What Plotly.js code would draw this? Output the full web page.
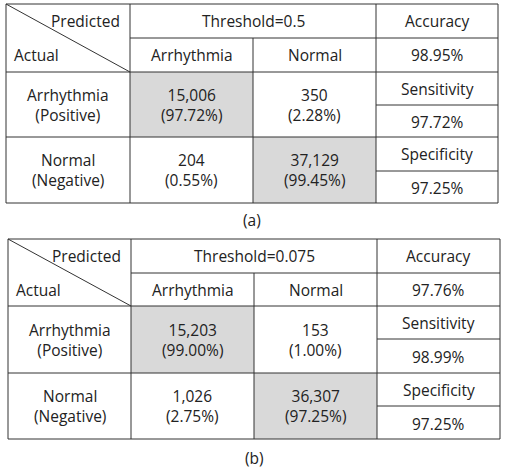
<!DOCTYPE html>
<html><head><meta charset="utf-8">
<script src="https://cdn.plot.ly/plotly-3.0.1.min.js"></script>
<style>html,body{margin:0;padding:0;background:#fff;}#chart{width:505px;height:469px;}</style>
</head><body><div id="chart"></div>
<script>
// ---- data ----
const predictedClasses = ["Arrhythmia", "Normal"];
const actualClasses = ["Arrhythmia", "Normal"];
const actualSub = ["(Positive)", "(Negative)"];
const thresholds = ["0.5", "0.075"];
const panelLabels = ["(a)", "(b)"];
const countsA = [[15006, 350], [204, 37129]];
const percentA = [[97.72, 2.28], [0.55, 99.45]];
const countsB = [[15203, 153], [1026, 36307]];
const percentB = [[99.00, 1.00], [2.75, 97.25]];
const accuracy = [98.95, 97.76];
const sensitivity = [97.72, 98.99];
const specificity = [97.25, 97.25];

// ---- layout geometry (pixel grid of the two tables) ----
const panels = [
  {xs: [6, 130, 253, 376, 498], ys: [4, 38, 72, 137, 203], sub: [105, 171], labelY: 220},
  {xs: [8, 131, 254, 377, 500], ys: [239, 273, 306, 373, 439], sub: [339, 406], labelY: 458}
];
const counts = [countsA, countsB];
const percents = [percentA, percentB];

const LINE = '#333';
const GREY = '#d9d9d9';
const FONT = {family: '"Open Sans", "Noto Sans", sans-serif', size: 15.5, color: '#222'};

const shapes = [];
const annotations = [];
function txt(x, y, t, xanchor) {
  annotations.push({x: x, y: y, xref: 'x', yref: 'y', text: t, showarrow: false,
    xanchor: xanchor || 'center', yanchor: 'middle', font: FONT});
}
function line(x0, y0, x1, y1, w) {
  shapes.push({type: 'line', xref: 'x', yref: 'y', x0: x0, y0: y0, x1: x1, y1: y1,
    line: {color: LINE, width: w || 1}});
}
const fmtN = v => v.toLocaleString('en-US');
const fmtP = v => v.toFixed(2) + '%';

panels.forEach((p, k) => {
  const xs = p.xs, ys = p.ys;
  // grey diagonal cells
  for (let i = 0; i < 2; i++) {
    shapes.push({type: 'rect', xref: 'x', yref: 'y', layer: 'below',
      x0: xs[1 + i], x1: xs[2 + i], y0: ys[2 + i], y1: ys[3 + i],
      fillcolor: GREY, line: {width: 0}});
  }
  // grid
  line(xs[0], ys[0], xs[4], ys[0]);
  line(xs[0], ys[4], xs[4], ys[4]);
  line(xs[0], ys[0], xs[0], ys[4]);
  line(xs[4], ys[0], xs[4], ys[4]);
  line(xs[1], ys[0], xs[1], ys[4]);
  line(xs[3], ys[0], xs[3], ys[4]);
  line(xs[2], ys[1], xs[2], ys[4]);
  line(xs[1], ys[1], xs[4], ys[1]);
  line(xs[0], ys[2], xs[4], ys[2]);
  line(xs[0], ys[3], xs[4], ys[3]);
  line(xs[3], p.sub[0], xs[4], p.sub[0]);
  line(xs[3], p.sub[1], xs[4], p.sub[1]);
  line(xs[0], ys[0], xs[1], ys[2]);

  const h1 = (ys[0] + ys[1]) / 2, h2 = (ys[1] + ys[2]) / 2;
  txt(xs[1] - 8, h1, 'Predicted', 'right');
  txt(xs[0] + 6, h2, 'Actual', 'left');
  txt((xs[1] + xs[3]) / 2, h1, 'Threshold=' + thresholds[k]);
  predictedClasses.forEach((c, j) => txt((xs[1 + j] + xs[2 + j]) / 2, h2, c));
  txt((xs[3] + xs[4]) / 2, h1, 'Accuracy');
  txt((xs[3] + xs[4]) / 2, h2, fmtP(accuracy[k]));

  for (let i = 0; i < 2; i++) {
    const mid = (ys[2 + i] + ys[3 + i]) / 2;
    txt((xs[0] + xs[1]) / 2, mid, actualClasses[i] + '<br>' + actualSub[i]);
    for (let j = 0; j < 2; j++) {
      const cx = (xs[1 + j] + xs[2 + j]) / 2;
      txt(cx, mid, fmtN(counts[k][i][j]) + '<br>(' + fmtP(percents[k][i][j]) + ')');
    }
  }
  const mx = (xs[3] + xs[4]) / 2;
  txt(mx, (ys[2] + p.sub[0]) / 2, 'Sensitivity');
  txt(mx, (p.sub[0] + ys[3]) / 2 + 1, fmtP(sensitivity[k]));
  txt(mx, (ys[3] + p.sub[1]) / 2, 'Specificity');
  txt(mx, (p.sub[1] + ys[4]) / 2 + 1, fmtP(specificity[k]));
  txt((xs[0] + xs[4]) / 2, p.labelY, panelLabels[k]);
});

const layout = {
  width: 505, height: 469,
  margin: {l: 0, r: 0, t: 0, b: 0},
  paper_bgcolor: '#fff', plot_bgcolor: '#fff',
  xaxis: {range: [0, 505], visible: false, fixedrange: true},
  yaxis: {range: [469, 0], visible: false, fixedrange: true},
  shapes: shapes, annotations: annotations, showlegend: false
};
Plotly.newPlot('chart', [{x: [], y: [], type: 'scatter', mode: 'markers', hoverinfo: 'skip'}], layout,
  {staticPlot: true, displayModeBar: false});
</script></body></html>
